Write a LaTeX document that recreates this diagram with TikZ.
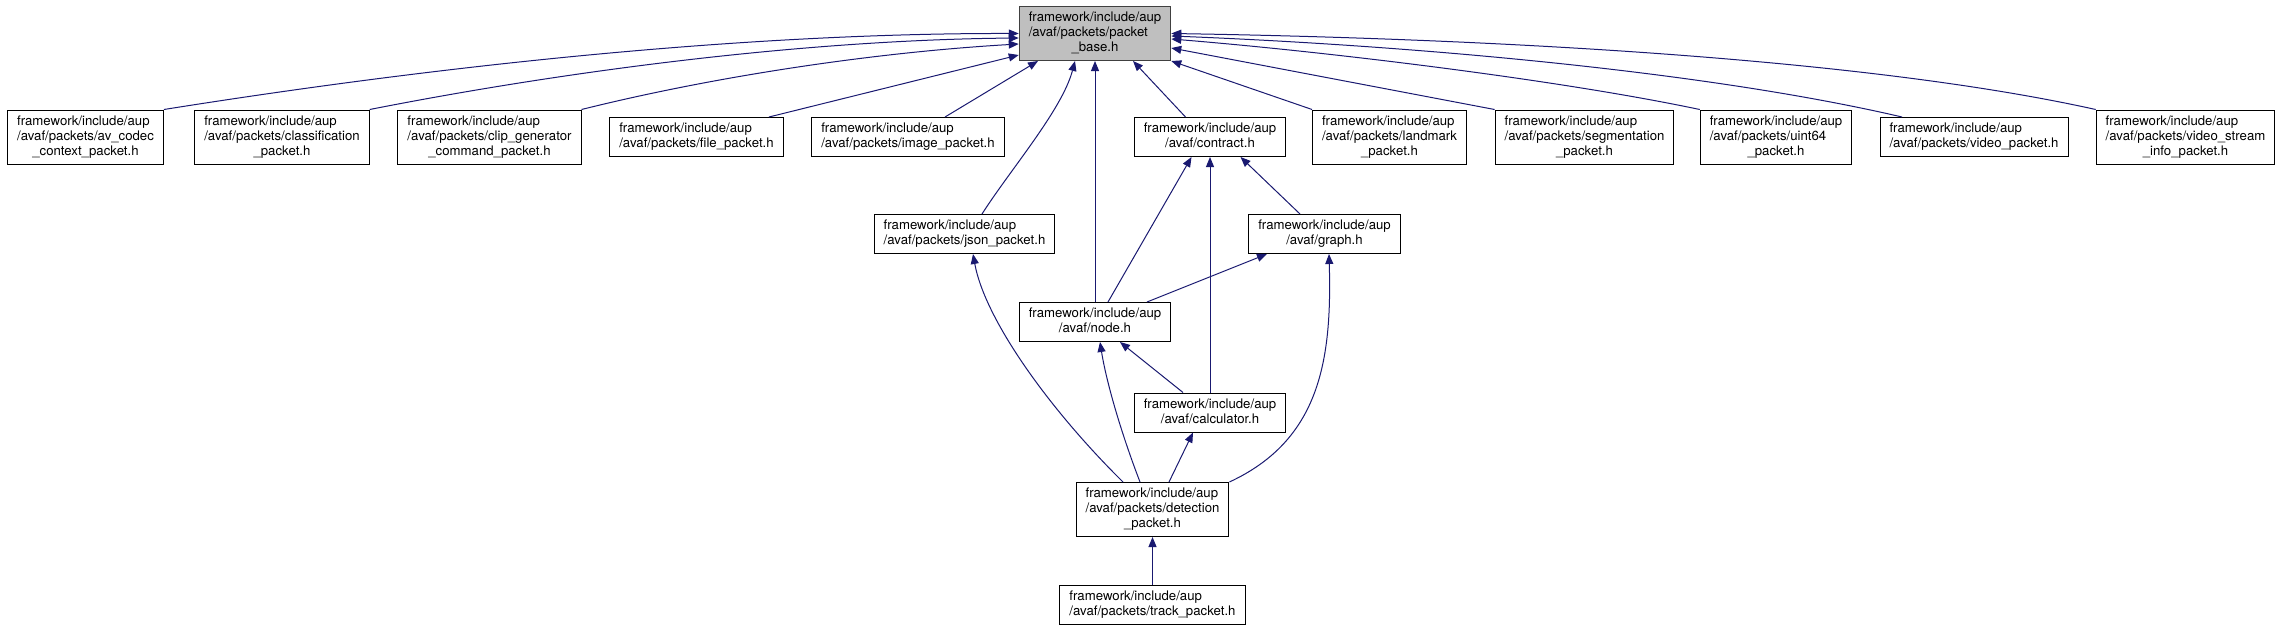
\documentclass[tikz,border=0pt]{standalone}
\usepackage{fontspec}
\setmainfont{TeX Gyre Heros}
\usetikzlibrary{arrows.meta, positioning}
\definecolor{edgeblue}{RGB}{25,25,112}
% lines left aligned, last line centred
\newcommand{\flbl}[2]{\begin{tabular}{@{}l@{}}#1\\\multicolumn{1}{@{}c@{}}{#2}\end{tabular}}

\begin{document}
\begin{tikzpicture}[
  x=1pt, y=-1pt,
  every node/.style={font=\fontsize{13.2}{15}\selectfont},
  >={Triangle[length=10pt,width=8pt]},
  file/.style={draw=black, fill=white, line width=1pt, inner xsep=9.5pt, inner ysep=4.5pt},
  basefile/.style={file, fill=gray!50, draw=gray!50!black},
  dep/.style={<-, draw=edgeblue, line width=1pt}
]
\useasboundingbox (0,0) rectangle (2283,632);

% the header itself
\node [basefile] (base) at (1095,33.5) {\flbl{framework/include/aup\\/avaf/packets/packet}{\_base.h}};

% first row
\node [file] (avcodec) at (85.5,137) {\flbl{framework/include/aup\\/avaf/packets/av\_codec}{\_context\_packet.h}};
\node [file] (classif) at (282,137) {\flbl{framework/include/aup\\/avaf/packets/classification}{\_packet.h}};
\node [file] (clipgen) at (489.5,137) {\flbl{framework/include/aup\\/avaf/packets/clip\_generator}{\_command\_packet.h}};
\node [file] (filepkt) at (696.5,137) {\flbl{framework/include/aup}{/avaf/packets/file\_packet.h}};
\node [file] (imagepkt) at (908,137) {\flbl{framework/include/aup}{/avaf/packets/image\_packet.h}};
\node [file] (contract) at (1210,137) {\flbl{framework/include/aup}{/avaf/contract.h}};
\node [file] (landmark) at (1389.5,137) {\flbl{framework/include/aup\\/avaf/packets/landmark}{\_packet.h}};
\node [file] (segment) at (1584.5,137) {\flbl{framework/include/aup\\/avaf/packets/segmentation}{\_packet.h}};
\node [file] (uint64) at (1776,137) {\flbl{framework/include/aup\\/avaf/packets/uint64}{\_packet.h}};
\node [file] (videopkt) at (1974,137) {\flbl{framework/include/aup}{/avaf/packets/video\_packet.h}};
\node [file] (videostream) at (2185.5,137) {\flbl{framework/include/aup\\/avaf/packets/video\_stream}{\_info\_packet.h}};

% lower rows
\node [file] (json) at (964.5,234) {\flbl{framework/include/aup}{/avaf/packets/json\_packet.h}};
\node [file] (graph) at (1324.5,234) {\flbl{framework/include/aup}{/avaf/graph.h}};
\node [file, below=241pt of base] (node) {\flbl{framework/include/aup}{/avaf/node.h}};
\node [file] (calc) at (1210,412.5) {\flbl{framework/include/aup}{/avaf/calculator.h}};
\node [file] (detection) at (1152.5,509.5) {\flbl{framework/include/aup\\/avaf/packets/detection}{\_packet.h}};
\node [file, below=48pt of detection] (track) {\flbl{framework/include/aup}{/avaf/packets/track\_packet.h}};

% includes of packet_base.h
\draw[dep] (base.west) .. controls (750,33) and (450,64) .. (avcodec.north east);
\draw[dep] ([yshift=-4.5pt]base.west) .. controls (800,40) and (560,72) .. (classif.north east);
\draw[dep] ([yshift=-10.5pt]base.west) .. controls (880,52) and (720,75) .. (clipgen.north east);
\draw[dep] ([yshift=6pt]base.south west) -- ([xshift=72.5pt]filepkt.north);
\draw[dep] ([xshift=-57pt]base.south) -- ([xshift=37pt]imagepkt.north);
\draw[dep] ([xshift=-20pt]base.south) .. controls (1062,110) and (1010,170) .. ([xshift=17.5pt]json.north);
\draw[dep] (base.south) -- (node.north);
\draw[dep] ([xshift=38pt]base.south) -- ([xshift=-24.5pt]contract.north);
\draw[dep] (base.south east) -- (landmark.north west);
\draw[dep] ([yshift=-14.5pt]base.east) -- (segment.north west);
\draw[dep] ([yshift=-5.5pt]base.east) .. controls (1330,52) and (1560,80) .. (uint64.north west);
\draw[dep] ([yshift=-2.5pt]base.east) .. controls (1400,45) and (1700,70) .. ([xshift=-72pt]videopkt.north);
\draw[dep] (base.east) .. controls (1450,38) and (1850,55) .. (videostream.north west);

% the rest
\draw[dep] ([xshift=-18.5pt]contract.south) -- ([xshift=13pt]node.north);
\draw[dep] (contract.south) -- (calc.north);
\draw[dep] ([xshift=30.5pt]contract.south) -- ([xshift=-24.5pt]graph.north);
\draw[dep] ([xshift=-57.5pt]graph.south) -- ([xshift=52pt]node.north);
\draw[dep] ([xshift=4.5pt]graph.south) .. controls (1332,360) and (1320,440) .. (detection.north east);
\draw[dep] ([xshift=8.5pt]json.south) .. controls (985,320) and (1050,410) .. ([xshift=-29.5pt]detection.north);
\draw[dep] ([xshift=25pt]node.south) -- ([xshift=-27pt]calc.north);
\draw[dep] ([xshift=5pt]node.south) .. controls (1106,380) and (1120,430) .. ([xshift=-12.5pt]detection.north);
\draw[dep] ([xshift=-17pt]calc.south) -- ([xshift=16.5pt]detection.north);
\draw[dep] (detection) -- (track);
\end{tikzpicture}
\end{document}
